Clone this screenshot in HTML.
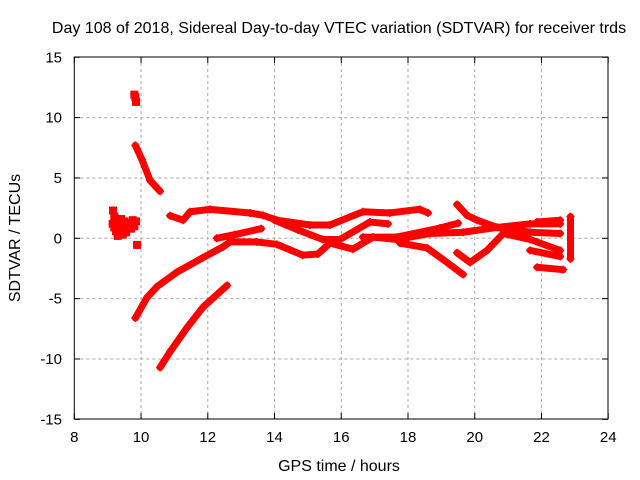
<!DOCTYPE html>
<html><head><meta charset="utf-8"><style>
body{margin:0;background:#fff}
svg{display:block;font-family:"Liberation Sans",sans-serif}
</style></head><body>
<svg id="chart" width="640" height="480" viewBox="0 0 640 480">
<text x="339" y="33" font-size="16" text-anchor="middle">Day 108 of 2018, Sidereal Day-to-day VTEC variation (SDTVAR) for receiver trds</text>
<g id="grid"></g>
<g id="axes"></g>
<g id="data"></g>
<text x="339" y="471" font-size="16" text-anchor="middle">GPS time / hours</text>
<text x="0" y="0" font-size="16" text-anchor="middle" transform="translate(20,238) rotate(-90)">SDTVAR / TECUs</text>
</svg>
<script>
const xTicks=[8,10,12,14,16,18,20,22,24];
const yTicks=[-15,-10,-5,0,5,10,15];
const trackUpper=[[10.87,1.87],[11.26,1.5],[11.47,2.2],[12.07,2.4],[13.27,2.1],[13.66,1.9],[14.07,1.5],[15.06,1.1],[15.66,1.1],[16.65,2.2],[17.45,2.1],[18.35,2.4],[18.6,2.1]];
const trackRising=[[9.83,-6.6],[10.18,-4.9],[10.48,-4.0],[11.08,-2.8],[11.86,-1.6],[12.46,-0.7],[12.67,-0.3],[13.47,-0.3],[14.07,-0.5],[14.85,-1.4],[15.3,-1.3],[15.66,-0.4],[16.35,-0.9],[16.95,0.1],[17.67,-0.1],[18.66,0.4],[19.65,0.5],[20.67,0.9],[21.66,1.2],[22.56,1.2]];
const trackShort=[[12.27,0.0],[12.8,0.3],[13.6,0.8]];
const trackDip=[[14.0,1.5],[14.7,0.7],[15.45,-0.1],[15.96,-0.1],[16.86,1.35],[17.4,1.2]];
const trackMid=[[16.65,0.1],[17.67,0.1],[18.96,0.85],[19.5,1.25]];
const trackFall=[[17.76,-0.4],[18.57,-0.8],[19.17,-2.0],[19.65,-3.0]];
const trackLate=[[19.47,2.8],[19.77,1.9],[20.07,1.5],[20.67,0.9],[21.66,0.5],[22.56,0.4]];
const trackV=[[19.47,-1.2],[19.86,-2.0],[20.37,-1.0],[20.86,0.4],[21.66,-0.1],[22.56,-1.0]];
const trackLow=[[21.66,-1.0],[22.56,-1.5]];
const trackBottom=[[21.87,-2.4],[22.65,-2.6]];
const trackEnd=[[22.87,1.8],[22.87,-1.7]];
const trackTopRight=[[21.87,1.35],[22.56,1.5]];
const trackEarly=[[9.83,7.7],[10.03,6.5],[10.27,4.8],[10.57,3.9]];
const trackSteep=[[10.57,-10.7],[10.87,-9.4],[11.38,-7.4],[11.86,-5.7],[12.58,-3.9]];
const scatterPts=[[9.16,2.3],[9.2,1.8],[9.15,1.2],[9.25,0.6],[9.3,0.2],[9.4,1.0],[9.5,1.4],[9.55,0.5],[9.65,1.2],[9.7,0.8],[9.8,1.0],[9.85,1.4],[9.3,1.5],[9.45,0.3],[9.2,0.9],[9.35,0.8],[9.6,0.9],[9.75,1.5],[9.4,1.6],[9.88,-0.55],[9.83,11.7],[9.85,11.3],[9.8,11.9]];
const tracks=[trackUpper,trackRising,trackShort,trackDip,trackMid,trackFall,trackLate,trackV,trackLow,trackBottom,trackEnd,trackTopRight,trackEarly,trackSteep];
const X=h=>74.3+(h-8)*33.37, Y=v=>238.3-v*12.07;
const NS='http://www.w3.org/2000/svg';
const mk=(t,a,p)=>{const e=document.createElementNS(NS,t);for(const k in a)e.setAttribute(k,a[k]);p.appendChild(e);return e;};
const grid=document.getElementById('grid'),axes=document.getElementById('axes'),data=document.getElementById('data');
xTicks.forEach(t=>{
  if(t>8&&t<24){const l=mk('line',{x1:X(t),x2:X(t),y1:57,y2:419,stroke:'#a8a8a8','stroke-dasharray':'3,3'},grid);
  }
  mk('line',{x1:X(t),x2:X(t),y1:419,y2:413,stroke:'#000'},axes);
  mk('line',{x1:X(t),x2:X(t),y1:57,y2:63,stroke:'#000'},axes);
  const tx=mk('text',{x:X(t),y:442,'font-size':15,'text-anchor':'middle'},axes);tx.textContent=t;
  
});
yTicks.forEach(t=>{
  if(t>-15&&t<15){const l=mk('line',{x1:74.3,x2:608,y1:Y(t),y2:Y(t),stroke:'#a8a8a8','stroke-dasharray':'3,3'},grid);
  }
  mk('line',{x1:74.3,x2:80,y1:Y(t),y2:Y(t),stroke:'#000'},axes);
  mk('line',{x1:602,x2:608,y1:Y(t),y2:Y(t),stroke:'#000'},axes);
  const tx=mk('text',{x:62,y:Y(t)+5,'font-size':15,'text-anchor':'end'},axes);tx.textContent=t;
  
});
const fr=mk('rect',{x:74.3,y:57,width:533.7,height:362,fill:'none',stroke:'#000'},axes);

const plus=(h,v)=>{const x=X(h),y=Y(v);
  const p=mk('path',{d:`M${x-4},${y}H${x+4}M${x},${y-4}V${y+4}`,stroke:'#f00','stroke-width':1.5},data);
  };
tracks.forEach(tr=>{
  const pl=mk('polyline',{points:tr.map(p=>X(p[0])+','+Y(p[1])).join(' '),fill:'none',stroke:'#f00','stroke-width':7,'stroke-linejoin':'round','stroke-linecap':'round'},data);
  
  tr.forEach(p=>plus(p[0],p[1]));
});
scatterPts.forEach(p=>{
  const c=mk('rect',{x:X(p[0])-4,y:Y(p[1])-4,width:8,height:8,fill:'#f00'},data);
  
  plus(p[0],p[1]);
});
</script>
</body></html>
